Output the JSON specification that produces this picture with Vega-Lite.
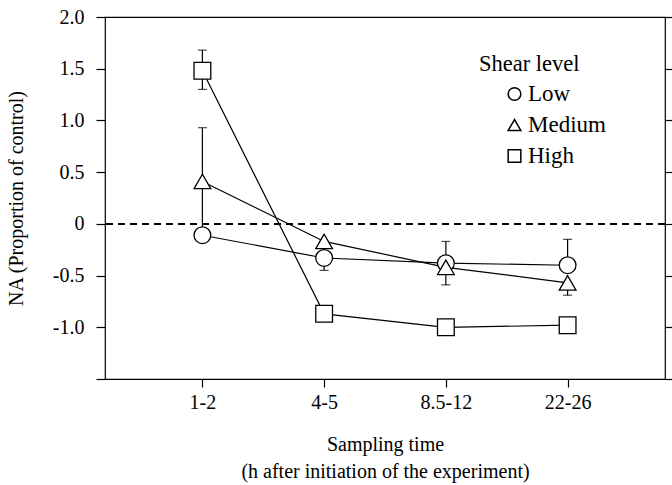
{
  "$schema": "https://vega.github.io/schema/vega-lite/v6.json",
  "autosize": "none",
  "width": 560,
  "height": 362,
  "padding": {"left": 105, "top": 17, "right": 7, "bottom": 106},
  "background": "white",
  "config": {
    "font": "Liberation Serif",
    "view": {"stroke": "black", "strokeWidth": 1.2},
    "axis": {"grid": false, "domain": false, "tickColor": "black", "labelColor": "black", "titleColor": "black", "labelFont": "Liberation Serif", "titleFont": "Liberation Serif", "labelFontSize": 20, "titleFontSize": 20, "titleFontWeight": "normal", "tickWidth": 1.2},
    "legend": {"labelFont": "Liberation Serif", "titleFont": "Liberation Serif"}
  },
  "data": {"values": [
    {"shear": "Low", "time": "1-2", "value": -0.11, "lo": -0.11, "hi": -0.11},
    {"shear": "Low", "time": "4-5", "value": -0.33, "lo": -0.45, "hi": -0.33},
    {"shear": "Low", "time": "8.5-12", "value": -0.38, "lo": -0.38, "hi": -0.17},
    {"shear": "Low", "time": "22-26", "value": -0.4, "lo": -0.4, "hi": -0.15},
    {"shear": "Medium", "time": "1-2", "value": 0.41, "lo": -0.1, "hi": 0.93},
    {"shear": "Medium", "time": "4-5", "value": -0.17, "lo": -0.17, "hi": -0.17},
    {"shear": "Medium", "time": "8.5-12", "value": -0.42, "lo": -0.59, "hi": -0.42},
    {"shear": "Medium", "time": "22-26", "value": -0.57, "lo": -0.69, "hi": -0.57},
    {"shear": "High", "time": "1-2", "value": 1.48, "lo": 1.3, "hi": 1.68},
    {"shear": "High", "time": "4-5", "value": -0.87, "lo": -0.87, "hi": -0.87},
    {"shear": "High", "time": "8.5-12", "value": -1.0, "lo": -1.0, "hi": -1.0},
    {"shear": "High", "time": "22-26", "value": -0.98, "lo": -0.98, "hi": -0.98}
  ]},
  "encoding": {
    "x": {"field": "time", "type": "ordinal", "sort": ["1-2", "4-5", "8.5-12", "22-26"],
      "scale": {"type": "point", "padding": 0.8},
      "axis": {"title": ["Sampling time", "(h after initiation of the experiment)"], "labelAngle": 0, "tickSize": 8, "labelPadding": 5, "titlePadding": 22, "titleLineHeight": 27}}
  },
  "layer": [
    {
      "mark": {"type": "rule", "strokeDash": [7, 5], "strokeWidth": 1.5, "color": "black"},
      "encoding": {"x": null, "y": {"datum": 0, "type": "quantitative", "scale": {"domain": [-1.5, 2.0]}, "axis": null}}
    },
    {
      "mark": {"type": "line", "color": "black", "strokeWidth": 1.2},
      "encoding": {
        "y": {"field": "value", "type": "quantitative", "scale": {"domain": [-1.5, 2.0], "nice": false},
          "axis": {"orient": "right", "values": [-1.5, -1, -0.5, 0, 0.5, 1, 1.5, 2], "labels": false, "tickSize": 8, "title": null}},
        "detail": {"field": "shear"}
      }
    },
    {
      "mark": {"type": "rule", "color": "black", "strokeWidth": 1.2},
      "encoding": {"y": {"field": "lo", "type": "quantitative", "axis": null}, "y2": {"field": "hi"}}
    },
    {
      "mark": {"type": "tick", "color": "black", "size": 9, "thickness": 1.2},
      "encoding": {"y": {"field": "lo", "type": "quantitative", "axis": null}}
    },
    {
      "mark": {"type": "tick", "color": "black", "size": 9, "thickness": 1.2},
      "encoding": {"y": {"field": "hi", "type": "quantitative", "axis": null}}
    },
    {
      "mark": {"type": "point", "filled": true, "color": "white", "fill": "white", "stroke": "black", "strokeWidth": 1.3, "size": 280, "opacity": 1},
      "encoding": {
        "y": {"field": "value", "type": "quantitative",
          "axis": {"orient": "left", "values": [-1.5, -1, -0.5, 0, 0.5, 1, 1.5, 2], "tickSize": 9, "labelPadding": 12, "titlePadding": 26,
            "labelExpr": "datum.value == -1.5 ? '' : (datum.value == 0 ? '0' : replace(format(datum.value, '.1f'), '\u2212', '-'))",
            "title": "NA (Proportion of control)"}},
        "shape": {"field": "shear", "type": "nominal",
          "scale": {"domain": ["Low", "Medium", "High"], "range": ["circle", "triangle-up", "square"]},
          "legend": {"orient": "none", "legendX": 374, "legendY": 36, "title": "Shear level", "titleFontSize": 22.5, "titleFontWeight": "normal", "labelFontSize": 23, "titlePadding": 7, "rowPadding": 7, "symbolSize": 160, "symbolOffset": 24, "labelOffset": 2,
            "encode": {"symbols": {"update": {"stroke": {"value": "black"}, "strokeWidth": {"value": 1.2}, "fill": {"value": "white"}, "opacity": {"value": 1}, "fillOpacity": {"value": 1}, "strokeOpacity": {"value": 1}}}}}}
      }
    }
  ],
  "resolve": {"axis": {"y": "independent"}}
}
